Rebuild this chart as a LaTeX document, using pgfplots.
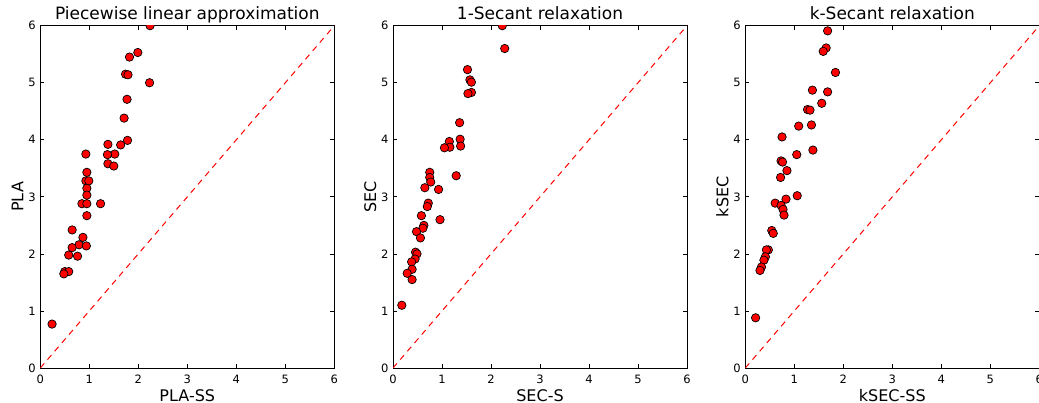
\documentclass[border=0pt]{standalone}
\usepackage{fontspec}
\setmainfont{DejaVu Sans}
\usepackage{pgfplots}
\pgfplotsset{compat=1.18}
\pgfplotsset{
  panel/.style={
    scale only axis, width=294pt, height=342.3pt,
    xmin=0, xmax=6, ymin=0, ymax=6,
    xtick={0,1,2,3,4,5,6}, ytick={0,1,2,3,4,5,6},
    tick align=inside, major tick length=4pt,
    every tick/.style={black, line width=0.8pt},
    axis line style={black, line width=1pt},
    /pgf/number format/assume math mode=true,
    ticklabel style={font=\fontsize{11.5}{13}\selectfont, inner sep=0pt},
    xticklabel style={anchor=north, yshift=-7pt},
    yticklabel style={anchor=east, xshift=-4.3pt},
    every axis title shift=0pt,
    title style={at={(axis description cs:0.5,1.0167)}, anchor=base, inner sep=0pt, font=\fontsize{17}{20}\selectfont},
    xlabel style={at={(axis description cs:0.5,-0.098)}, anchor=base, inner sep=0pt, font=\fontsize{16}{19}\selectfont},
    ylabel style={at={(axis description cs:-0.0578,0.5)}, anchor=base, inner sep=0pt, font=\fontsize{16}{19}\selectfont},
    clip=true, clip marker paths=true,
  },
  dots/.style={only marks, mark=*, mark size=4.2pt, mark options={fill=red, draw=black, line width=0.7pt}},
  diag/.style={red, line width=1pt, dash pattern=on 6pt off 5pt},
}
\begin{document}
\begin{tikzpicture}[x=1pt,y=1pt]
\begin{axis}[panel, at={(40.3pt,34pt)}, anchor=south west,
  title={Piecewise linear approximation}, xlabel={PLA-SS}, ylabel={PLA}]
\addplot[dots] coordinates {
(1.99,5.53) (1.82,5.45) (1.74,5.15) (1.79,5.14) (2.23,5.00) (1.77,4.71)
(1.71,4.38) (1.78,3.99) (1.64,3.91) (1.38,3.92) (1.52,3.75) (1.37,3.74)
(0.93,3.75) (1.38,3.58) (1.50,3.54) (0.95,3.43) (0.93,3.28) (0.99,3.28)
(0.95,3.15) (0.95,3.03) (0.85,2.88) (0.95,2.88) (1.23,2.88) (0.95,2.67)
(0.65,2.42) (0.87,2.29) (0.79,2.16) (0.94,2.14) (0.65,2.11) (0.58,1.98)
(0.76,1.96) (0.50,1.69) (0.58,1.69) (0.48,1.65) (0.24,0.77) (2.24,6.0)
};
\addplot[diag] coordinates {(0,0) (6,6)};
\end{axis}
\begin{axis}[panel, at={(393pt,34pt)}, anchor=south west,
  title={1-Secant relaxation}, xlabel={SEC-S}, ylabel={SEC}]
\addplot[dots] coordinates {
(2.23,6.0) (2.28,5.60) (1.52,5.23) (1.57,5.05) (1.60,5.01) (1.60,4.83)
(1.53,4.81) (1.36,4.30) (1.37,4.01) (1.38,3.89) (1.15,3.97) (1.16,3.87)
(1.05,3.86) (0.75,3.43) (1.29,3.37) (0.75,3.34) (0.77,3.26) (0.65,3.16)
(0.93,3.13) (0.72,2.89) (0.70,2.83) (0.58,2.67) (0.96,2.60) (0.63,2.50)
(0.61,2.45) (0.48,2.39) (0.56,2.28) (0.46,2.03) (0.49,2.00) (0.45,1.91)
(0.38,1.86) (0.39,1.73) (0.29,1.66) (0.39,1.55) (0.18,1.10)
};
\addplot[diag] coordinates {(0,0) (6,6)};
\end{axis}
\begin{axis}[panel, at={(745.3pt,34pt)}, anchor=south west,
  title={k-Secant relaxation}, xlabel={kSEC-SS}, ylabel={kSEC}]
\addplot[dots] coordinates {
(1.68,5.91) (1.65,5.61) (1.59,5.55) (1.84,5.18) (1.37,4.87) (1.68,4.84)
(1.56,4.64) (1.27,4.53) (1.32,4.52) (1.09,4.24) (1.35,4.26) (0.75,4.05)
(1.05,3.74) (1.38,3.82) (0.73,3.63) (0.76,3.61) (0.85,3.46) (0.72,3.34)
(1.06,3.02) (0.83,2.96) (0.61,2.89) (0.73,2.85) (0.77,2.78) (0.79,2.68)
(0.54,2.41) (0.57,2.36) (0.47,2.07) (0.43,2.07) (0.41,1.95) (0.38,1.89)
(0.33,1.77) (0.30,1.71) (0.21,0.88)
};
\addplot[diag] coordinates {(0,0) (6,6)};
\end{axis}
\pgfresetboundingbox
\useasboundingbox (0,0) rectangle (1039,402);
\end{tikzpicture}
\end{document}
